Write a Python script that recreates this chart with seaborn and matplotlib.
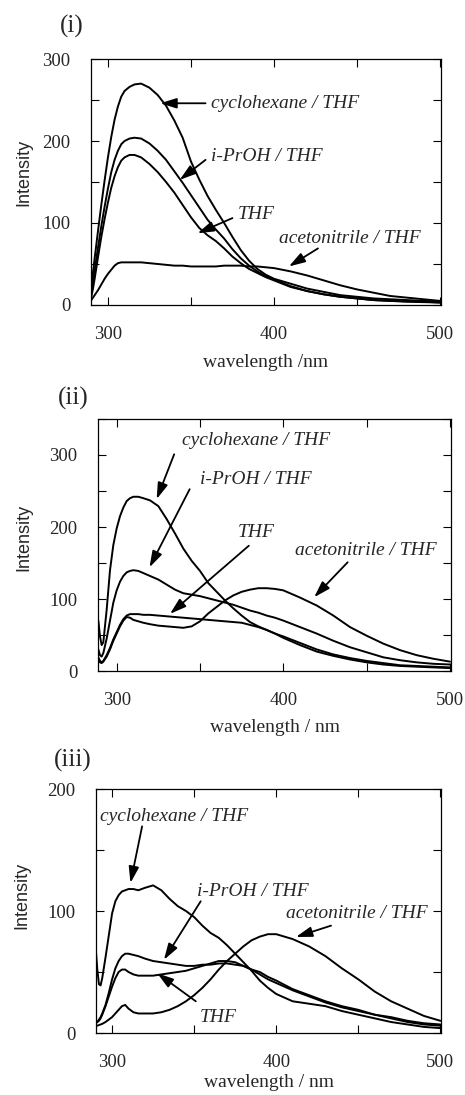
import pandas as pd
import seaborn as sns
import matplotlib.pyplot as plt
from matplotlib.ticker import MultipleLocator

solvents = ['cyclohexane / THF', 'i-PrOH / THF', 'THF', 'acetonitrile / THF']

# ---- panel (i) ----
wl_i = [290, 291, 292, 294, 296, 298, 300, 302, 304, 306, 308, 310, 313, 316, 320,
        325, 330, 335, 340, 345, 350, 355, 360, 365, 370, 375, 380, 385, 390, 395,
        400, 410, 420, 430, 440, 450, 460, 470, 480, 490, 500]
cyc_i = [24, 40, 57, 90, 122, 152, 180, 205, 226, 242, 254, 261, 266, 269, 270,
         265, 256, 243, 225, 204, 175, 153, 133, 116, 100, 83, 67, 54, 44, 37,
         32, 26, 20, 16, 12, 10, 8, 7, 6, 5, 4]
ipr_i = [16, 28, 42, 70, 96, 120, 142, 162, 177, 188, 196, 200, 203, 204, 203,
         197, 188, 177, 163, 149, 134, 119, 104, 92, 81, 68, 57, 48, 41, 35,
         31, 23, 17, 13, 10, 8, 6, 5, 4.5, 4, 3]
thf_i = [10, 20, 32, 58, 83, 105, 125, 143, 157, 168, 176, 180, 183, 183, 180,
         172, 162, 150, 137, 122, 107, 94, 85, 78, 69, 59, 51, 44, 39, 34,
         30, 22, 17, 13, 10, 8, 6, 5, 4, 3.5, 3]
acn_i = [6, 9, 12, 18, 25, 32, 38, 43, 48, 51, 52, 52, 52, 52, 52,
         51, 50, 49, 48, 48, 47, 47, 47, 47, 48, 48, 48, 47, 47, 46,
         45, 41, 36, 30, 24, 19, 15, 11, 9, 7, 5]

# ---- panel (ii) ----
wl_ii = [289, 290, 291, 292, 294, 296, 298, 300, 302, 304, 306, 308, 310, 313, 316,
         320, 325, 330, 335, 340, 345, 350, 355, 360, 365, 370, 375, 380, 385, 390,
         395, 400, 410, 420, 430, 440, 450, 460, 470, 480, 490, 500]
cyc_ii = [70, 48, 36, 40, 85, 140, 175, 198, 215, 227, 236, 240, 242, 242, 240,
          237, 229, 211, 191, 170, 153, 139, 122, 110, 98, 87, 77, 68, 62, 57,
          52, 46, 36, 27, 21, 16, 12, 9, 7, 6, 5, 4]
ipr_ii = [30, 22, 20, 25, 45, 70, 95, 112, 124, 132, 137, 139, 140, 139, 136,
          132, 127, 120, 113, 108, 106, 104, 101, 98, 95, 92, 88, 84, 81, 77,
          74, 70, 61, 52, 42, 33, 26, 19, 15, 12, 10, 9]
thf_ii = [19, 14, 12, 14, 22, 32, 44, 54, 64, 72, 77, 79, 79, 79, 78,
          78, 77, 76, 75, 74, 73, 72, 71, 70, 69, 68, 67, 64, 61, 57,
          52, 48, 39, 30, 23, 18, 14, 11, 8, 7, 6, 5]
acn_ii = [15, 12, 11, 13, 20, 30, 42, 52, 62, 70, 75, 74, 71, 69, 67,
          65, 63, 62, 61, 60, 62, 69, 80, 89, 98, 105, 110, 113, 115, 115,
          114, 112, 102, 91, 77, 61, 49, 38, 29, 22, 17, 13]

# ---- panel (iii) ----
wl_iii = [290, 291, 292, 293, 294, 296, 298, 300, 302, 304, 306, 308, 310, 313, 316,
          320, 325, 330, 335, 340, 345, 350, 355, 360, 365, 370, 375, 380, 385, 390,
          395, 400, 410, 420, 430, 440, 450, 460, 470, 480, 490, 500]
cyc_iii = [70, 52, 40, 39, 45, 62, 80, 98, 108, 113, 116, 117, 118, 118, 117,
           119, 121, 117, 110, 104, 100, 95, 88, 82, 78, 72, 65, 58, 51, 43,
           37, 32, 26, 24, 22, 18, 15, 12, 9, 7, 5, 4]
ipr_iii = [8, 9, 11, 13, 16, 23, 33, 44, 53, 59, 63, 65, 65, 64, 63,
           61, 59, 58, 57, 56, 55, 55, 56, 56, 57, 57, 56, 55, 52, 50,
           46, 43, 36, 31, 26, 22, 19, 15, 13, 10, 8, 7]
thf_iii = [8, 9, 10, 12, 15, 22, 30, 38, 45, 50, 52, 52, 50, 48, 47,
           47, 47, 48, 49, 50, 51, 53, 55, 57, 59, 59, 58, 55, 52, 48,
           44, 41, 35, 30, 25, 21, 18, 15, 12, 9, 7, 6]
acn_iii = [6, 6, 6.5, 7, 7.5, 9, 11, 13, 16, 19, 22, 23, 20, 17, 16,
           16, 16, 17, 19, 22, 26, 31, 37, 44, 52, 59, 65, 71, 76, 79,
           81, 81, 77, 71, 63, 53, 44, 34, 26, 20, 14, 10]


def long_table(wl, series):
    frames = [pd.DataFrame({'wavelength': wl, 'intensity': vals, 'solvent': name})
              for name, vals in zip(solvents, series)]
    return pd.concat(frames, ignore_index=True)


def px_box(left, top, right, bottom):
    return [left / 465, 1 - bottom / 1095, (right - left) / 465, (bottom - top) / 1095]


panels = [
    dict(tag='(i)', tag_xy=(72, 26), box=px_box(91, 59, 441, 305),
         xlim=(289.8, 500.6), ylim=(0, 300), xlabel='wavelength /nm',
         data=long_table(wl_i, [cyc_i, ipr_i, thf_i, acn_i]),
         ylab=(-0.168, 0.54), xlab=-0.20,
         notes=[((362, 246), (358.8, 246), (331.5, 246)),
                ((362, 181), (358.8, 177), (343.2, 152.6)),
                ((378, 110), (375, 106), (354, 87.5)),
                ((403, 81), (426.5, 69), (409, 47))]),
    dict(tag='(ii)', tag_xy=(73, 398), box=px_box(98, 419, 451, 671),
         xlim=(288.8, 500.6), ylim=(0, 350), xlabel='wavelength / nm',
         data=long_table(wl_ii, [cyc_ii, ipr_ii, thf_ii, acn_ii]),
         ylab=(-0.185, 0.53), xlab=-0.19,
         notes=[((339, 319.5), (334.5, 301), (324, 238.7)),
                ((349.8, 266), (343.8, 252.5), (319.7, 144)),
                ((372.7, 192.5), (379.3, 174), (332, 79.4)),
                ((407, 167), (438.6, 151), (418.5, 102.5))]),
    dict(tag='(iii)', tag_xy=(73, 760), box=px_box(96, 789, 441, 1033),
         xlim=(290.2, 500.4), ylim=(0, 200), xlabel='wavelength / nm',
         data=long_table(wl_iii, [cyc_iii, ipr_iii, thf_iii, acn_iii]),
         ylab=(-0.19, 0.565), xlab=-0.17,
         notes=[((292.9, 177.6), (318.3, 169.4), (311.2, 123)),
                ((351.5, 116), (354, 108), (331.6, 60)),
                ((353.6, 12.3), (351, 26), (327.5, 49)),
                ((405.9, 98), (433.4, 88), (412, 78.7))]),
]

sns.set_style('ticks')
plt.rcParams['font.family'] = ['Liberation Serif', 'DejaVu Serif']

fig = plt.figure(figsize=(4.65, 10.95), dpi=100)

for p in panels:
    ax = fig.add_axes(p['box'])
    sns.lineplot(data=p['data'], x='wavelength', y='intensity', hue='solvent',
                 palette=['black'] * 4, estimator=None, sort=False,
                 linewidth=1.4, legend=False, ax=ax)
    ax.set_xlim(*p['xlim'])
    ax.set_ylim(*p['ylim'])
    ax.xaxis.set_major_locator(MultipleLocator(100))
    ax.xaxis.set_minor_locator(MultipleLocator(50))
    ax.yaxis.set_major_locator(MultipleLocator(100))
    ax.yaxis.set_minor_locator(MultipleLocator(50))
    ax.tick_params(which='both', direction='in', top=True, right=True,
                   length=6, width=0.8, color='black')
    ax.tick_params(axis='x', labelsize=13.5, pad=15)
    ax.tick_params(axis='y', labelsize=13.5, pad=15)
    for s in ax.spines.values():
        s.set_linewidth(0.9)
        s.set_color('black')

    ax.set_xlabel(p['xlabel'], fontsize=14)
    ax.xaxis.set_label_coords(0.5, p['xlab'])
    ax.set_ylabel('Intensity', fontsize=13, family='Liberation Sans')
    ax.yaxis.set_label_coords(*p['ylab'])

    for name, (txt, tail, tip) in zip(solvents, p['notes']):
        ax.text(txt[0], txt[1], name, fontsize=14, style='italic',
                ha='left', va='center')
        ax.annotate('', xy=tip, xytext=tail,
                    arrowprops=dict(arrowstyle='-|>,head_length=0.7,head_width=0.22',
                                    color='black', lw=1.3, mutation_scale=14,
                                    shrinkA=0, shrinkB=0))

    fig.text(p['tag_xy'][0] / 465, 1 - p['tag_xy'][1] / 1095, p['tag'],
             fontsize=18, ha='center', va='center')

fig.savefig('out.png', dpi=100)
